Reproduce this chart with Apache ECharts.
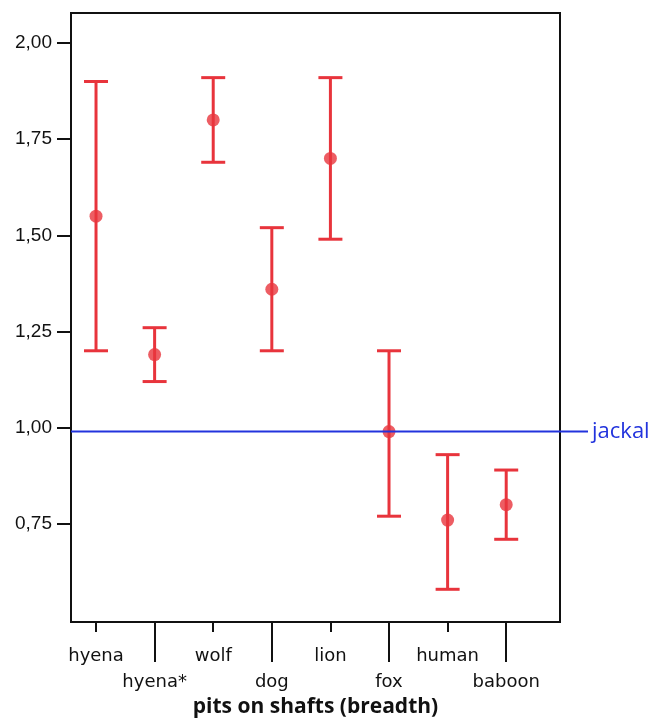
<!DOCTYPE html>
<html>
<head>
<meta charset="utf-8">
<script src="https://cdn.jsdelivr.net/npm/echarts@6/dist/echarts.min.js"></script>
<style>html,body{margin:0;padding:0;background:#fff;}#c{width:654px;height:720px;}</style>
</head>
<body>
<div id="c"></div>
<script>
// ---- data ----
var categories = ['hyena', 'hyena*', 'wolf', 'dog', 'lion', 'fox', 'human', 'baboon'];
var means = [1.55, 1.19, 1.80, 1.36, 1.70, 0.99, 0.76, 0.80];
var lower = [1.20, 1.12, 1.69, 1.20, 1.49, 0.77, 0.58, 0.71];
var upper = [1.90, 1.26, 1.91, 1.52, 1.91, 1.20, 0.93, 0.89];
var yTicks = [0.75, 1.00, 1.25, 1.50, 1.75, 2.00];
var jackalValue = 0.99;
var jackalLabel = 'jackal';
var xTitle = 'pits on shafts (breadth)';

var Y_MIN = 0.495, Y_MAX = 2.078;
var X_MIN = 0.573, X_MAX = 8.918;
var RED = '#e8343c', BLUE = '#2233dd';

var positions = categories.map(function (c, i) { return i + 1; });
var oddPos = positions.filter(function (p) { return p % 2 === 1; });
var evenPos = positions.filter(function (p) { return p % 2 === 0; });

var errData = positions.map(function (p, i) { return [p, lower[i], upper[i]]; });
var meanData = positions.map(function (p, i) { return [p, means[i]]; });

var chart = echarts.init(document.getElementById('c'), null, { renderer: 'canvas' });
var labelStyle = { fontFamily: 'DejaVu Sans', fontSize: 18, color: '#111' };

chart.setOption({
  animation: false,
  grid: [
    { left: 71, right: 94, top: 13, bottom: 98, containLabel: false, outerBoundsMode: 'none', show: true, borderColor: '#111', borderWidth: 2, backgroundColor: 'transparent' },
    { left: 71, right: 66, top: 13, bottom: 98, containLabel: false, outerBoundsMode: 'none' }
  ],
  xAxis: [
    {
      type: 'value', gridIndex: 0, min: X_MIN, max: X_MAX, position: 'bottom',
      splitLine: { show: false },
      axisLine: { show: true, lineStyle: { color: '#111', width: 2 } },
      axisTick: { show: true, customValues: oddPos, length: 10, lineStyle: { color: '#111', width: 2 } },
      axisLabel: Object.assign({ customValues: oddPos, margin: 25, formatter: function (v) { return categories[Math.round(v) - 1]; } }, labelStyle),
      name: xTitle, nameLocation: 'middle', nameGap: 75,
      nameTextStyle: { fontFamily: 'Open Sans', fontWeight: 'bold', fontSize: 21, color: '#111' }
    },
    {
      type: 'value', gridIndex: 0, min: X_MIN, max: X_MAX, position: 'bottom',
      splitLine: { show: false },
      axisLine: { show: false },
      axisTick: { show: true, customValues: evenPos, length: 40, lineStyle: { color: '#111', width: 2 } },
      axisLabel: Object.assign({ customValues: evenPos, margin: 51, formatter: function (v) { return categories[Math.round(v) - 1]; } }, labelStyle)
    },
    { type: 'value', gridIndex: 1, min: 0, max: 1, show: false }
  ],
  yAxis: [
    {
      type: 'value', gridIndex: 0, min: Y_MIN, max: Y_MAX,
      splitLine: { show: false },
      axisLine: { show: true, lineStyle: { color: '#111', width: 2 } },
      axisTick: { show: true, customValues: yTicks, length: 14, lineStyle: { color: '#111', width: 2 } },
      axisLabel: {
        customValues: yTicks, margin: 19, fontFamily: 'Liberation Sans', fontSize: 19, color: '#111',
        formatter: function (v) { return v.toFixed(2).replace('.', ','); }
      }
    },
    { type: 'value', gridIndex: 1, min: Y_MIN, max: Y_MAX, show: false }
  ],
  series: [
    {
      type: 'custom', xAxisIndex: 0, yAxisIndex: 0, data: errData,
      renderItem: function (params, api) {
        var x = api.value(0);
        var lo = api.coord([x, api.value(1)]);
        var hi = api.coord([x, api.value(2)]);
        var hw = 12;
        var st = { stroke: RED, lineWidth: 3 };
        return {
          type: 'group', children: [
            { type: 'line', shape: { x1: lo[0], y1: lo[1], x2: hi[0], y2: hi[1] }, style: st },
            { type: 'line', shape: { x1: lo[0] - hw, y1: lo[1], x2: lo[0] + hw, y2: lo[1] }, style: st },
            { type: 'line', shape: { x1: hi[0] - hw, y1: hi[1], x2: hi[0] + hw, y2: hi[1] }, style: st }
          ]
        };
      },
      z: 3
    },
    {
      type: 'scatter', xAxisIndex: 0, yAxisIndex: 0, data: meanData,
      symbol: 'circle', symbolSize: 13, itemStyle: { color: RED }, z: 4
    },
    {
      type: 'line', xAxisIndex: 2, yAxisIndex: 1,
      data: [[0, jackalValue], [1, jackalValue]],
      symbol: 'none', lineStyle: { color: BLUE, width: 2 },
      endLabel: { show: true, formatter: jackalLabel, color: BLUE, fontFamily: 'Open Sans', fontSize: 22, distance: 4 },
      z: 5
    }
  ]
});
</script>
</body>
</html>
